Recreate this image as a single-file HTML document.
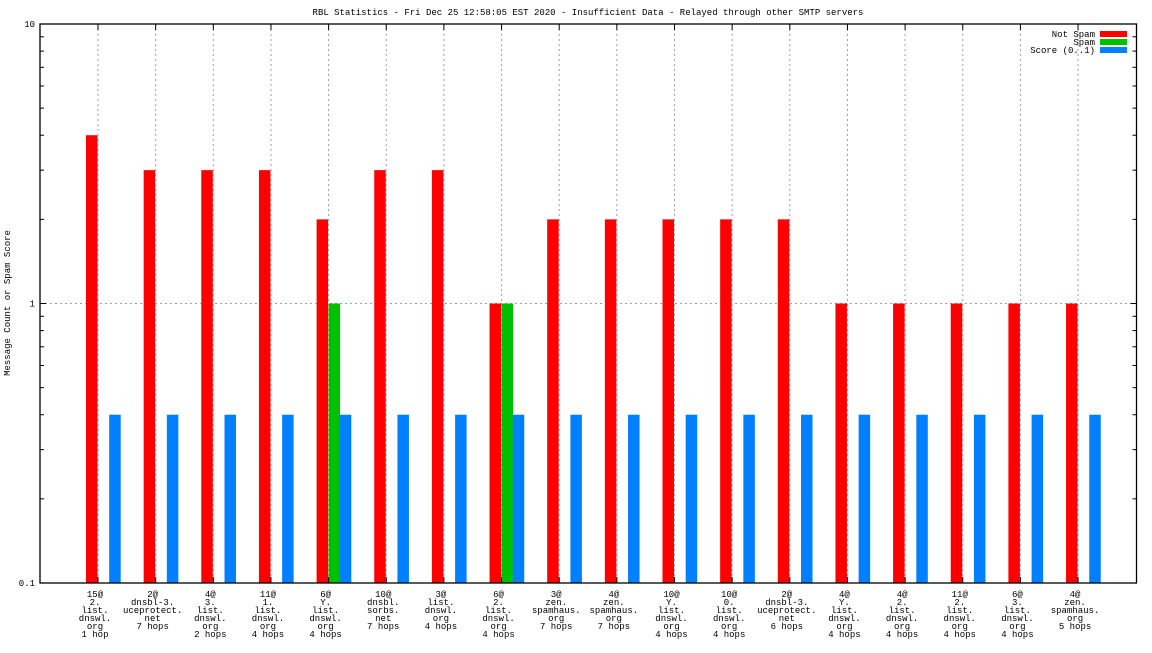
<!DOCTYPE html>
<html><head><meta charset="utf-8"><style>
html,body{margin:0;padding:0;background:#fff}
svg text{font-family:"Liberation Mono","DejaVu Sans Mono",monospace;font-size:9px;fill:#000}
</style></head><body>
<svg id="chart" width="1152" height="648" viewBox="0 0 1152 648" xmlns="http://www.w3.org/2000/svg">
<rect width="1152" height="648" fill="#fff"/>
<text x="588" y="15" text-anchor="middle">RBL Statistics - Fri Dec 25 12:58:05 EST 2020 - Insufficient Data - Relayed through other SMTP servers</text>
<text transform="translate(10,303) rotate(-90)" text-anchor="middle">Message Count or Spam Score</text>
<g id="grid"></g><g id="bars"></g><g id="axes"></g><g id="labels"></g>
<g>
<text x="1095" y="37" text-anchor="end">Not Spam</text><rect x="1100" y="31" width="27" height="6" fill="#ff0000"/>
<text x="1095" y="45" text-anchor="end">Spam</text><rect x="1100" y="39" width="27" height="6" fill="#00c000"/>
<text x="1095" y="53" text-anchor="end">Score (0..1)</text><rect x="1100" y="47" width="27" height="6" fill="#0080ff"/>
</g>
</svg>
<script>
const categories=[
["15@","2.","list.","dnswl.","org","1 hop"],
["2@","dnsbl-3.","uceprotect.","net","7 hops"],
["4@","3.","list.","dnswl.","org","2 hops"],
["11@","1.","list.","dnswl.","org","4 hops"],
["6@","Y.","list.","dnswl.","org","4 hops"],
["10@","dnsbl.","sorbs.","net","7 hops"],
["3@","list.","dnswl.","org","4 hops"],
["6@","2.","list.","dnswl.","org","4 hops"],
["3@","zen.","spamhaus.","org","7 hops"],
["4@","zen.","spamhaus.","org","7 hops"],
["10@","Y.","list.","dnswl.","org","4 hops"],
["10@","0.","list.","dnswl.","org","4 hops"],
["2@","dnsbl-3.","uceprotect.","net","6 hops"],
["4@","Y.","list.","dnswl.","org","4 hops"],
["4@","2.","list.","dnswl.","org","4 hops"],
["11@","2.","list.","dnswl.","org","4 hops"],
["6@","3.","list.","dnswl.","org","4 hops"],
["4@","zen.","spamhaus.","org","5 hops"]];
const notSpam=[4,3,3,3,2,3,3,1,2,2,2,2,2,1,1,1,1,1];
const spam=[0,0,0,0,1,0,0,1,0,0,0,0,0,0,0,0,0,0];
const score=[0.4,0.4,0.4,0.4,0.4,0.4,0.4,0.4,0.4,0.4,0.4,0.4,0.4,0.4,0.4,0.4,0.4,0.4];
const yTicks=[0.1,1,10];
const yTickLabels=["0.1","1","10"];

const NS="http://www.w3.org/2000/svg";
const L=40,R=1136.5,T=24,B=583;
const yMin=0.1,yMax=10;
function y(v){return B-(Math.log10(v)-Math.log10(yMin))/(Math.log10(yMax)-Math.log10(yMin))*(B-T);}
function x(i){return 98+i*57.65;}
function mk(tag,attrs,parent){const e=document.createElementNS(NS,tag);for(const k in attrs)e.setAttribute(k,attrs[k]);document.getElementById(parent).appendChild(e);return e;}

// grid
categories.forEach((c,i)=>{
 const g=mk('line',{x1:x(i),x2:x(i),y1:T,y2:B,stroke:'#a0a0a0','stroke-dasharray':'2,3','stroke-width':1},'grid');
 
 
});
[1].forEach(v=>{
 const g=mk('line',{x1:L,x2:R,y1:y(v),y2:y(v),stroke:'#a0a0a0','stroke-dasharray':'2,3','stroke-width':1},'grid');
 
 
});
// bars
const w=11.5;
categories.forEach((c,i)=>{
 const sets=[[notSpam[i],'#ff0000',-12,'bar-not-spam'],[spam[i],'#00c000',0,'bar-spam'],[score[i],'#0080ff',11.2,'bar-score']];
 sets.forEach(s=>{
  if(s[0]<=yMin)return;
  const yy=y(s[0]);
  const r=mk('rect',{x:x(i)+s[2],y:yy,width:w,height:B-yy,fill:s[1]},'bars');
  
  
 });
});
// axes
const fr=mk('rect',{x:L,y:T,width:R-L,height:B-T,fill:'none',stroke:'#000','stroke-width':1.3},'axes');


for(let d=0.1;d<10;d*=10){
 for(let m=1;m<10;m++){
  const v=d*m; if(v<yMin||v>yMax)continue;
  const len=m===1?6:4; const yy=y(v);
  mk('line',{x1:L,x2:L+len,y1:yy,y2:yy,stroke:'#000'},'axes');
  mk('line',{x1:R-len,x2:R,y1:yy,y2:yy,stroke:'#000'},'axes');
 }
}
yTicks.forEach((v,k)=>{
 const t=mk('text',{x:L-5,y:y(v)+3,'text-anchor':'end'},'axes');
 t.textContent=yTickLabels[k];
 
 
});
categories.forEach((c,i)=>{
 mk('line',{x1:x(i),x2:x(i),y1:B,y2:B-6,stroke:'#000'},'axes');
 mk('line',{x1:x(i),x2:x(i),y1:T,y2:T+6,stroke:'#000'},'axes');
 const t=mk('text',{'text-anchor':'middle'},'labels');
 
 
 c.forEach((line,j)=>{
  const s=document.createElementNS(NS,'tspan');
  s.setAttribute('x',x(i)-3);s.setAttribute('y',597+j*8);
  s.textContent=line;t.appendChild(s);
 });
});
</script>
</body></html>
